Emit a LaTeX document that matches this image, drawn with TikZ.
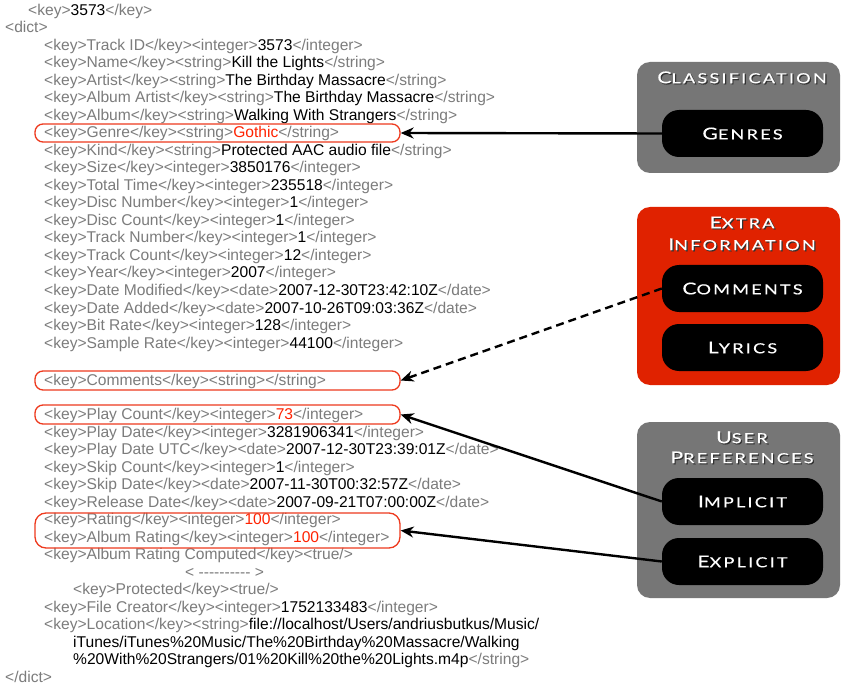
\documentclass[tikz,border=0pt]{standalone}
\usepackage{fontspec}
\setmainfont{Liberation Sans}
\newfontfamily\capsfont[FakeStretch=1.3, LetterSpace=16, FakeBold=0.4]{Lato}
\usetikzlibrary{arrows.meta}

\definecolor{taggray}{HTML}{7C7C7C}
\definecolor{hired}{HTML}{FF2200}
\definecolor{ringred}{HTML}{EE3A1E}
\definecolor{boxgray}{HTML}{767676}
\definecolor{boxred}{HTML}{E02200}

% grey markup, red highlighted value
\newcommand\tg[1]{\textcolor{taggray}{#1}}
\newcommand\hv[1]{\textcolor{hired}{#1}}
% hand-made small capitals
\newcommand\smc[2]{{\fontsize{16.3}{16.3}\selectfont #1}{\fontsize{13.9}{13.9}\selectfont #2}}
% white lettering with a dark drop shadow
\newcommand\shd[1]{\rlap{\color{black!80}\raisebox{-1.2pt}{\kern1.2pt #1}}#1}

\tikzset{
  x=1pt, y=-1pt,
  xml/.style={anchor=base west, inner sep=0pt, font=\fontsize{15.6}{15.6}\selectfont},
  ring/.style={draw=ringred, line width=1.3pt, rounded corners=8pt, inner sep=0pt,
               minimum width=365pt},
  group/.style={rounded corners=13pt, inner sep=0pt, minimum width=203pt},
  pill/.style={fill=black, rounded corners=17pt, inner sep=0pt, minimum width=161pt,
               minimum height=47pt, text=white, font=\capsfont},
  title/.style={text=white, font=\capsfont, inner sep=0pt},
  conn/.style={line width=2.4pt, -{Stealth[length=13pt,width=11pt]}},
}

\begin{document}
\begin{tikzpicture}
\useasboundingbox (0,0) rectangle (841,687);
\fill[white] (0,0) rectangle (841,687);

% ---------- the iTunes library entry ----------
\node[xml] (t01) at (28,15.5)  {\tg{<key>}3573\tg{</key>}};
\node[xml] (t02) at (5,32.5)   {\tg{<dict>}};
\node[xml] (t03) at (44,50.5)  {\tg{<key>Track ID</key><integer>}3573\tg{</integer>}};
\node[xml] (t04) at (44,68)    {\tg{<key>Name</key><string>}Kill the Lights\tg{</string>}};
\node[xml] (t05) at (44,85.5)  {\tg{<key>Artist</key><string>}The Birthday Massacre\tg{</string>}};
\node[xml] (t06) at (44,103)   {\tg{<key>Album Artist</key><string>}The Birthday Massacre\tg{</string>}};
\node[xml] (t07) at (44,120.5) {\tg{<key>Album</key><string>}Walking With Strangers\tg{</string>}};
\node[xml] (t08) at (44,138)   {\tg{<key>Genre</key><string>}\hv{Gothic}\tg{</string>}};
\node[xml] (t09) at (44,155.5) {\tg{<key>Kind</key><string>}Protected AAC audio file\tg{</string>}};
\node[xml] (t10) at (44,173)   {\tg{<key>Size</key><integer>}3850176\tg{</integer>}};
\node[xml] (t11) at (44,190.5) {\tg{<key>Total Time</key><integer>}235518\tg{</integer>}};
\node[xml] (t12) at (44,208)   {\tg{<key>Disc Number</key><integer>}1\tg{</integer>}};
\node[xml] (t13) at (44,225.5) {\tg{<key>Disc Count</key><integer>}1\tg{</integer>}};
\node[xml] (t14) at (44,243)   {\tg{<key>Track Number</key><integer>}1\tg{</integer>}};
\node[xml] (t15) at (44,260.5) {\tg{<key>Track Count</key><integer>}12\tg{</integer>}};
\node[xml] (t16) at (44,278)   {\tg{<key>Year</key><integer>}2007\tg{</integer>}};
\node[xml] (t17) at (44,295.5) {\tg{<key>Date Modified</key><date>}2007-12-30T23:42:10Z\tg{</date>}};
\node[xml] (t18) at (44,313)   {\tg{<key>Date Added</key><date>}2007-10-26T09:03:36Z\tg{</date>}};
\node[xml] (t19) at (44,330.5) {\tg{<key>Bit Rate</key><integer>}128\tg{</integer>}};
\node[xml] (t20) at (44,348)   {\tg{<key>Sample Rate</key><integer>}44100\tg{</integer>}};
\node[xml] (t21) at (44,385.5) {\tg{<key>Comments</key><string></string>}};
\node[xml] (t22) at (44,419.5) {\tg{<key>Play Count</key><integer>}\hv{73}\tg{</integer>}};
\node[xml] (t23) at (44,437)   {\tg{<key>Play Date</key><integer>}3281906341\tg{</integer>}};
\node[xml] (t24) at (44,454.5) {\tg{<key>Play Date UTC</key><date>}2007-12-30T23:39:01Z\tg{</date>}};
\node[xml] (t25) at (44,472)   {\tg{<key>Skip Count</key><integer>}1\tg{</integer>}};
\node[xml] (t26) at (44,489.5) {\tg{<key>Skip Date</key><date>}2007-11-30T00:32:57Z\tg{</date>}};
\node[xml] (t27) at (44,507)   {\tg{<key>Release Date</key><date>}2007-09-21T07:00:00Z\tg{</date>}};
\node[xml] (t28) at (44,524.5) {\tg{<key>Rating</key><integer>}\hv{100}\tg{</integer>}};
\node[xml] (t29) at (44,542)   {\tg{<key>Album Rating</key><integer>}\hv{100}\tg{</integer>}};
\node[xml] (t30) at (44,559.5) {\tg{<key>Album Rating Computed</key><true/>}};
\node[xml] (t31) at (185,577)  {\tg{< -{}-{}-{}-{}-{}-{}-{}-{}-{}- >}};
\node[xml] (t32) at (73,594.5) {\tg{<key>Protected</key><true/>}};
\node[xml] (t33) at (44,612)   {\tg{<key>File Creator</key><integer>}1752133483\tg{</integer>}};
\node[xml] (t34) at (44,629.5) {\tg{<key>Location</key><string>}file://localhost/Users/andriusbutkus/Music/};
\node[xml] (t35) at (73,647)   {iTunes/iTunes\%20Music/The\%20Birthday\%20Massacre/Walking};
\node[xml] (t36) at (73,664.5) {\%20With\%20Strangers/01\%20Kill\%20the\%20Lights.m4p\tg{</string>}};
\node[xml] (t37) at (5,682)    {\tg{</dict>}};

% ---------- highlighted entries ----------
\node[ring, minimum height=18pt] (genrering) at (217.5,133)   {};
\node[ring, minimum height=19pt] (commring)  at (217.5,380.5) {};
\node[ring, minimum height=19pt] (playring)  at (217.5,414.5) {};
\node[ring, minimum height=35pt, rounded corners=11pt] (ratering) at (217.5,530.5) {};

% ---------- category panels ----------
\node[group, fill=boxgray, minimum height=111pt] (classbox) at (738.5,117.5) {};
\node[group, fill=boxred,  minimum height=178pt] (extrabox) at (738.5,296)   {};
\node[group, fill=boxgray, minimum height=176pt] (userbox)  at (738.5,510)   {};

\node[title] (classtitle) at (742,78)  {\shd{\smc{C}{LASSIFICATION}}};
\node[title] (extratitle) at (742,223) {\shd{\smc{E}{XTRA}}};
\node[title] (infotitle)  at (742,245) {\shd{\smc{I}{NFORMATION}}};
\node[title] (usertitle)  at (742,438) {\shd{\smc{U}{SER}}};
\node[title] (preftitle)  at (742,458) {\shd{\smc{P}{REFERENCES}}};

\node[pill] (genres)   at (742.5,133.5) {\smc{G}{ENRES}};
\node[pill] (comments) at (742.5,288.5) {\smc{C}{OMMENTS}};
\node[pill] (lyrics)   at (742.5,347.5) {\smc{L}{YRICS}};
\node[pill] (implicit) at (742.5,501.5) {\smc{I}{MPLICIT}};
\node[pill] (explicit) at (742.5,561.5) {\smc{E}{XPLICIT}};

% ---------- connectors ----------
\draw[conn] (genres.west) -- (genrering.east);
\draw[conn, dash pattern=on 8pt off 5pt] (comments.west) -- (commring.east);
\draw[conn] (implicit.west) -- (playring.east);
\draw[conn] (explicit.west) -- (ratering.east);
\end{tikzpicture}
\end{document}
